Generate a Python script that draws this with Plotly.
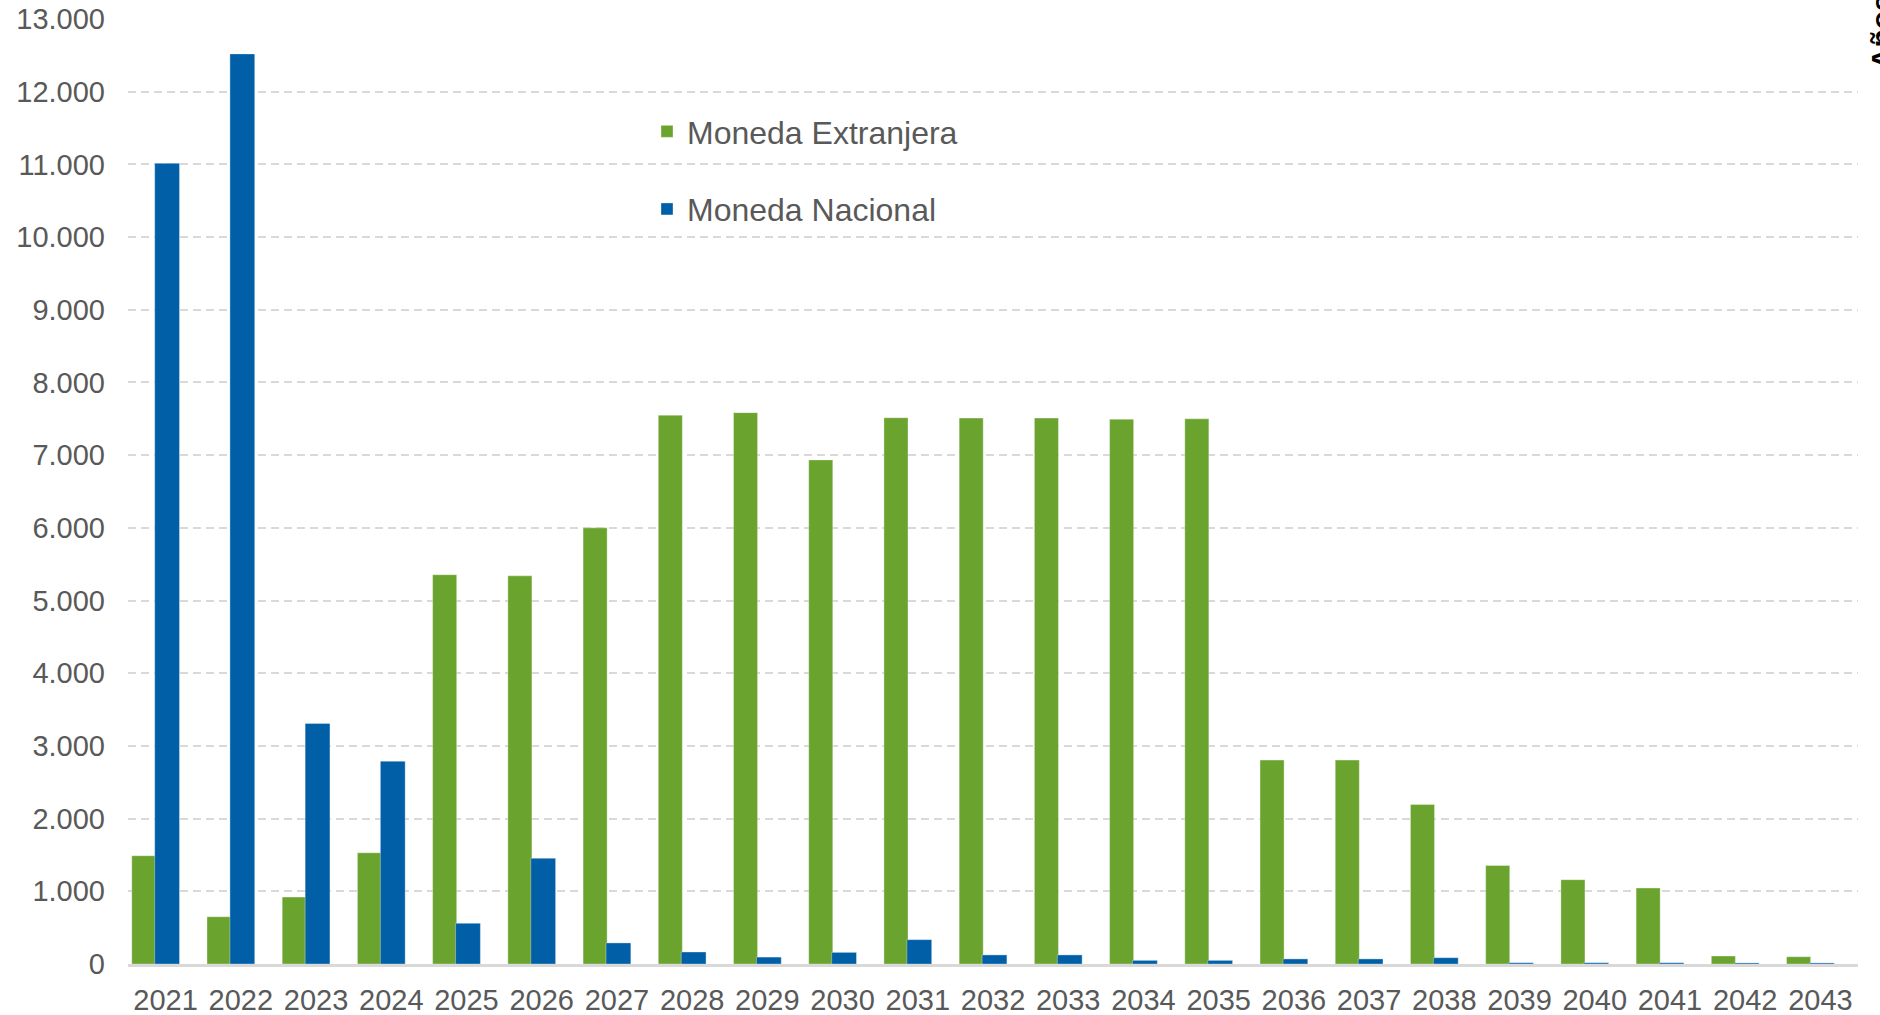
import plotly.graph_objects as go

years = [str(y) for y in range(2021, 2044)]
moneda_extranjera = [1490, 650, 920, 1530, 5355, 5340, 6000, 7550, 7585, 6935,
                     7515, 7510, 7510, 7495, 7500, 2805, 2805, 2195, 1355, 1160,
                     1045, 110, 100]
moneda_nacional = [11015, 12520, 3310, 2790, 560, 1455, 290, 165, 95, 160,
                   335, 125, 125, 50, 50, 70, 70, 87, 18, 18,
                   18, 15, 15]
y_ticks = list(range(0, 13001, 1000))

GREEN = "#6BA32F"
BLUE = "#005FA6"
FONT = "Liberation Sans, Arial, sans-serif"

fig = go.Figure()
fig.add_trace(go.Bar(
    x=years, y=moneda_extranjera, name="Moneda Extranjera",
    offset=-0.45, width=0.32,
    marker=dict(color=GREEN, line=dict(color="rgba(255,255,255,0.35)", width=1)),
    legendgroup="ext",
))
fig.add_trace(go.Bar(
    x=years, y=moneda_nacional, name="Moneda Nacional",
    offset=-0.145, width=0.33,
    marker=dict(color=BLUE, line=dict(color="rgba(255,255,255,0.35)", width=1)),
    legendgroup="nac",
))

fig.update_layout(
    width=1880, height=1015,
    margin=dict(l=128, r=22, t=19, b=51, autoexpand=False),
    paper_bgcolor="white", plot_bgcolor="white",
    barmode="overlay",
    separators=",.",
    font=dict(family=FONT, size=29, color="#595959"),
    showlegend=True,
    legend=dict(
        x=0.30, y=0.91, xanchor="left", yanchor="top",
        font=dict(family=FONT, size=32, color="#595959"),
        bgcolor="rgba(0,0,0,0)", tracegroupgap=33,
        traceorder="grouped",
    ),
    xaxis=dict(
        type="category", showgrid=False, showline=True,
        linecolor="#D9D9D9", linewidth=2.5, ticks="",
        tickfont=dict(family=FONT, size=29, color="#595959"),
        ticklabelstandoff=8, fixedrange=True,
    ),
    yaxis=dict(
        range=[0, 13000], tickvals=y_ticks, tickformat=",d",
        showgrid=True, gridcolor="#D9D9D9", gridwidth=1.5, griddash="8px,5px",
        zeroline=False, showline=False, ticks="",
        tickfont=dict(family=FONT, size=29, color="#595959"),
        ticklabelstandoff=22, fixedrange=True,
    ),
)

fig.add_annotation(
    text="<b>Años</b>", textangle=-90,
    xref="paper", yref="paper", x=1.0133, y=0.986,
    xanchor="center", yanchor="middle", showarrow=False,
    font=dict(family=FONT, size=30, color="#000000"),
)

fig.write_html(
    "out.html",
    config={"displayModeBar": False},
    post_script="document.body.style.margin='0';document.body.style.overflow='hidden';",
)
